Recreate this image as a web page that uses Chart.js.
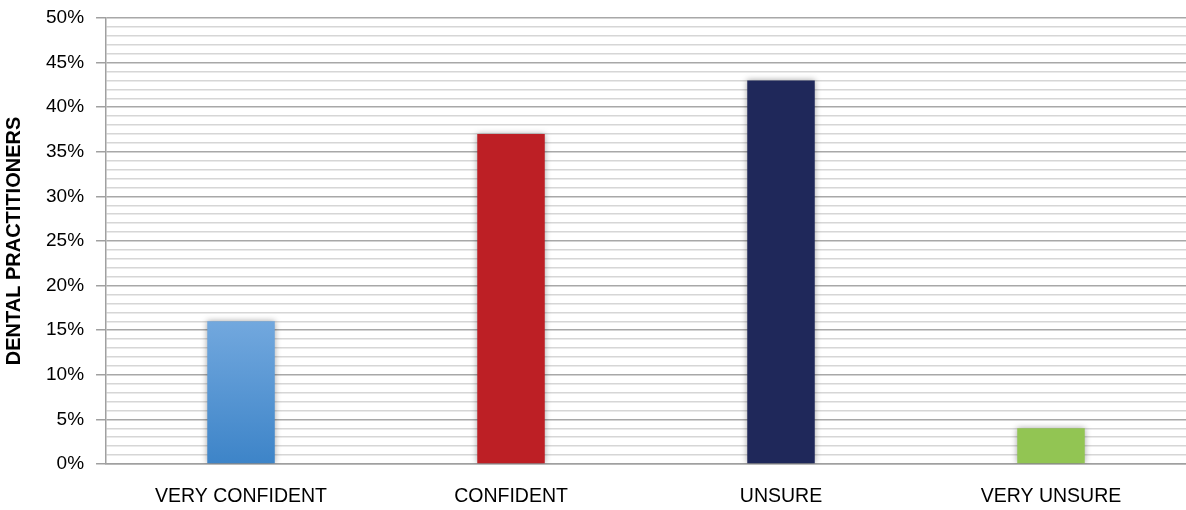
<!DOCTYPE html>
<html>
<head>
<meta charset="utf-8">
<script src="https://cdn.jsdelivr.net/npm/chart.js@4/dist/chart.umd.min.js"></script>
<style>
  html, body { margin: 0; padding: 0; background: #ffffff; }
  #wrap { width: 1186px; height: 510px; position: relative; }
</style>
</head>
<body>
<div id="wrap"><canvas id="chart" width="1186" height="510"></canvas></div>
<script>
// Confidence levels of dental practitioners (share of respondents, %)
const categories = ['VERY CONFIDENT', 'CONFIDENT', 'UNSURE', 'VERY UNSURE'];
const shares = [16, 37, 43, 4];
const barColors = ['#4a8fd0', '#bd1f25', '#1f285a', '#92c553'];
const blueTop = '#72a8de';
const blueBottom = '#3d84c8';
const yTickValues = [0, 5, 10, 15, 20, 25, 30, 35, 40, 45, 50];

const FONT = "'Liberation Sans', Arial, Helvetica, sans-serif";

// soft drop shadow round each bar
const barShadow = {
  id: 'barShadow',
  beforeDatasetsDraw(chart) {
    const c = chart.ctx;
    c.save();
    c.shadowColor = 'rgba(0,0,0,0.35)';
    c.shadowBlur = 6;
    c.shadowOffsetX = 0;
    c.shadowOffsetY = 0;
  },
  afterDatasetsDraw(chart) {
    chart.ctx.restore();
  }
};

function barFill(ctx) {
  const i = ctx.dataIndex;
  const chart = ctx.chart;
  if (i !== 0 || !chart.chartArea) return barColors[i];
  const y = chart.scales.y;
  const top = y.getPixelForValue(shares[i]);
  const bottom = y.getPixelForValue(0);
  const g = chart.ctx.createLinearGradient(0, top, 0, bottom);
  g.addColorStop(0, blueTop);
  g.addColorStop(1, blueBottom);
  return g;
}

new Chart(document.getElementById('chart'), {
  type: 'bar',
  data: {
    labels: categories,
    datasets: [{
      data: shares,
      backgroundColor: barFill,
      borderWidth: 0,
      categoryPercentage: 1,
      barPercentage: 0.25
    }]
  },
  options: {
    responsive: false,
    animation: false,
    devicePixelRatio: 1,
    layout: { padding: { left: 2, top: 0, right: 0, bottom: 0 } },
    plugins: {
      legend: { display: false },
      tooltip: { enabled: false }
    },
    scales: {
      x: {
        afterFit(scale) { scale.height = 46; },
        grid: { display: false, drawTicks: false },
        border: { display: true, color: '#a0a0a0', width: 1.5 },
        ticks: {
          color: '#000000',
          padding: 21,
          font: { family: FONT, size: 19.5 }
        }
      },
      y: {
        min: 0,
        max: 50,
        afterFit(scale) {
          scale.paddingTop = 18;
          scale.paddingBottom = 0;
        },
        afterBuildTicks(scale) {
          const t = [];
          for (let v = 0; v <= 50; v++) t.push({ value: v });
          scale.ticks = t;
        },
        grid: {
          color: (c) => (c.tick && c.tick.value % 5 === 0) ? '#a8a8a8' : '#d6d6d6',
          tickColor: (c) => (c.tick && c.tick.value % 5 === 0) ? '#a0a0a0' : 'rgba(0,0,0,0)',
          lineWidth: 1.5,
          tickLength: 10
        },
        border: { display: true, color: '#a0a0a0', width: 1.5 },
        ticks: {
          autoSkip: false,
          color: '#000000',
          padding: 12,
          font: { family: FONT, size: 19 },
          callback: (v) => yTickValues.includes(v) ? v + '%' : ''
        },
        title: {
          display: true,
          text: 'DENTAL PRACTITIONERS',
          color: '#000000',
          padding: { top: 0, bottom: 8 },
          font: { family: FONT, size: 20, weight: 'bold' }
        }
      }
    }
  },
  plugins: [barShadow]
});
</script>
</body>
</html>
